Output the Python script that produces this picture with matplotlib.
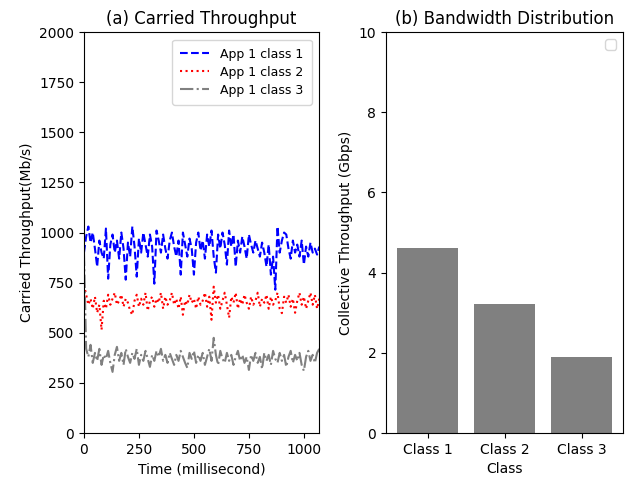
import matplotlib
matplotlib.use("Agg")
import matplotlib.pyplot as plt
import numpy as np

# Carried throughput samples (Mb/s), one every 10 ms
class1 = [900, 980, 1030, 950, 1000, 920, 830, 960, 900, 870,
          1020, 770, 940, 990, 900, 960, 870, 1000, 920, 765,
          950, 880, 1030, 930, 780, 970, 900, 1000, 940, 880,
          990, 930, 745, 1010, 960, 900, 990, 920, 870, 960,
          1000, 930, 880, 960, 790, 1000, 940, 880, 970, 920,
          790, 950, 1000, 910, 960, 870, 990, 930, 1010, 880,
          800, 990, 920, 1000, 940, 840, 1010, 930, 990, 830,
          960, 900, 980, 930, 870, 990, 940, 900, 960, 920,
          880, 950, 900, 830, 940, 790, 880, 715, 1030, 900,
          960, 1000, 990, 920, 870, 960, 900, 940, 880, 960,
          840, 930, 880, 950, 900, 920, 890, 930]
class2 = [740, 690, 640, 670, 620, 680, 600, 640, 515, 660,
          620, 690, 640, 670, 700, 640, 660, 690, 630, 670,
          650, 610, 590, 660, 690, 630, 670, 640, 700, 610,
          660, 680, 630, 670, 650, 700, 620, 680, 640, 660,
          700, 640, 670, 620, 680, 590, 660, 640, 690, 650,
          670, 620, 680, 640, 660, 700, 630, 680, 565, 730,
          650, 690, 620, 660, 700, 640, 575, 680, 650, 700,
          620, 670, 640, 690, 650, 620, 680, 640, 660, 700,
          630, 670, 650, 690, 620, 680, 640, 660, 700, 620,
          598, 680, 650, 690, 630, 670, 600, 660, 700, 640,
          680, 620, 660, 700, 640, 690, 620, 670]
class3 = [900, 420, 380, 440, 350, 400, 360, 420, 340, 390,
          370, 410, 350, 305, 390, 430, 360, 400, 340, 420,
          380, 350, 400, 370, 420, 340, 390, 360, 410, 370,
          330, 390, 360, 410, 380, 420, 360, 390, 350, 400,
          370, 340, 390, 360, 410, 380, 350, 325, 400, 370,
          410, 350, 390, 360, 400, 340, 380, 420, 360, 475,
          390, 340, 410, 370, 350, 400, 360, 390, 340, 380,
          410, 360, 390, 350, 380, 315, 390, 360, 400, 350,
          380, 320, 400, 360, 390, 340, 410, 370, 350, 400,
          360, 390, 330, 380, 410, 350, 390, 360, 400, 340,
          310, 380, 410, 360, 390, 350, 400, 420]
time_ms = np.arange(len(class1)) * 10

# Collective throughput per class (Gbps)
classes = ["Class 1", "Class 2", "Class 3"]
collective = [4.61, 3.22, 1.89]

fig = plt.figure(figsize=(6.36, 4.78), dpi=100)
ax1 = fig.add_axes([0.132, 0.094, 0.37, 0.839])
ax2 = fig.add_axes([0.607, 0.094, 0.373, 0.839])

ax1.plot(time_ms, class1, color="blue", linestyle="--", label="App 1 class 1")
ax1.plot(time_ms, class2, color="red", linestyle=":", label="App 1 class 2")
ax1.plot(time_ms, class3, color="gray", linestyle="-.", label="App 1 class 3")
ax1.set_xlim(0, time_ms[-1])
ax1.set_ylim(0, 2000)
ax1.set_title("(a) Carried Throughput")
ax1.set_xlabel("Time (millisecond)")
ax1.set_ylabel("Carried Throughput(Mb/s)")
ax1.legend(loc="upper right", fontsize=9, borderpad=0.65, handlelength=2.3,
           handletextpad=0.9, labelspacing=0.4, borderaxespad=0.6)

ax2.bar(classes, collective, color="gray")
ax2.set_ylim(0, 10)
ax2.set_title("(b) Bandwidth Distribution")
ax2.set_xlabel("Class")
ax2.set_ylabel("Collective Throughput (Gbps)")
ax2.legend()

fig.savefig("out.png", dpi=100)
